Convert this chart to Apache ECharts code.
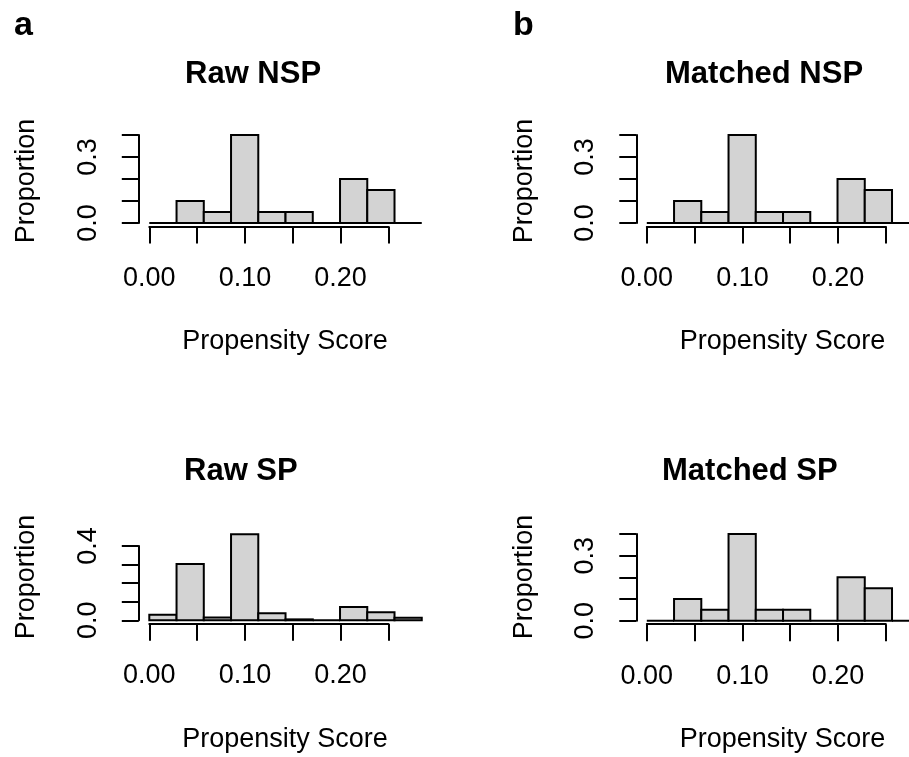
<!DOCTYPE html>
<html><head><meta charset="utf-8">
<script src="https://cdn.jsdelivr.net/npm/echarts@6/dist/echarts.min.js"></script>
<style>html,body{margin:0;padding:0;background:#fff}#c{width:909px;height:757px}</style>
</head><body><div id="c"></div>
<script>
// ---- data ----
const binEdges = [0, 0.0285, 0.057, 0.0855, 0.114, 0.1425, 0.171, 0.1995, 0.228, 0.2565, 0.285];
const rawNSP     = [0, 0.10, 0.05, 0.40, 0.05, 0.05, 0, 0.20, 0.15, 0];
const matchedNSP = [0, 0.10, 0.05, 0.40, 0.05, 0.05, 0, 0.20, 0.15, 0];
const rawSP      = [0.030, 0.303, 0.015, 0.463, 0.038, 0.005, 0, 0.072, 0.043, 0.014];
const matchedSP  = [0, 0.10, 0.05, 0.40, 0.05, 0.05, 0, 0.20, 0.15, 0];
const xTicks = [0, 0.05, 0.10, 0.15, 0.20, 0.25];
const xTickLabels = ['0.00', '', '0.10', '', '0.20', ''];
const yTicks = [0, 0.1, 0.2, 0.3, 0.4];
const yTickLabelsA = ['0.0', '', '', '0.3', ''];
const yTickLabelsB = ['0.0', '', '', '', '0.4'];
const panelTitles = ['Raw NSP', 'Matched NSP', 'Raw SP', 'Matched SP'];
const panelLetters = ['a', 'b'];
const xName = 'Propensity Score';
const yName = 'Proportion';

// ---- layout ----
const panels = [
  {values: rawNSP,     yLabels: yTickLabelsA, left: 149.3, top: 135,   height: 88,   title: [185, 74],  yName: [27, 181], xName: [285, 342]},
  {values: matchedNSP, yLabels: yTickLabelsA, left: 646.8, top: 135,   height: 88,   title: [665, 74],  yName: [524.5, 181], xName: [782.5, 342]},
  {values: rawSP,      yLabels: yTickLabelsB, left: 149.3, top: 546,   height: 74.3, title: [184, 471], yName: [27, 577], xName: [285, 740]},
  {values: matchedSP,  yLabels: yTickLabelsA, left: 646.8, top: 534,   height: 86.7, title: [662, 471], yName: [524.5, 577], xName: [782.5, 740]}
];
const FONT = '"Liberation Sans", Arial, Helvetica, sans-serif';
const W = 239;

function lookup(ticks, labels) {
  return function (v) {
    const i = ticks.findIndex(t => Math.abs(t - v) < 1e-9);
    return i >= 0 ? labels[i] : '';
  };
}

const grid = [], xAxis = [], yAxis = [], series = [], graphic = [];
panels.forEach((p, k) => {
  grid.push({left: p.left, top: p.top, width: W, height: p.height, containLabel: false});
  xAxis.push({
    gridIndex: k, type: 'value', min: 0, max: 0.25, interval: 0.05, offset: 3.5, position: 'bottom',
    axisLine: {show: true, onZero: false, lineStyle: {color: '#000', width: 2}},
    axisTick: {show: true, length: 17, lineStyle: {color: '#000', width: 2}},
    axisLabel: {show: true, margin: 38.5, fontSize: 27, fontFamily: FONT, color: '#000',
      formatter: lookup(xTicks, xTickLabels), showMinLabel: true, showMaxLabel: true},
    splitLine: {show: false}
  });
  yAxis.push({
    gridIndex: k, type: 'value', min: 0, max: 0.4, interval: 0.1, offset: 10.5, position: 'left',
    axisLine: {show: true, onZero: false, lineStyle: {color: '#000', width: 2}},
    axisTick: {show: true, length: 17, lineStyle: {color: '#000', width: 2}},
    axisLabel: {show: true, rotate: 90, margin: 37, fontSize: 27, fontFamily: FONT, color: '#000',
      formatter: lookup(yTicks, p.yLabels), showMinLabel: true, showMaxLabel: true},
    splitLine: {show: false}
  });
  const data = p.values.map((v, i) => [binEdges[i], binEdges[i + 1], v]);
  series.push({
    type: 'custom', xAxisIndex: k, yAxisIndex: k, clip: false, silent: true,
    encode: {x: [0, 1], y: 2},
    data: data,
    renderItem: function (params, api) {
      const a = api.coord([api.value(0), 0]);
      const b = api.coord([api.value(1), api.value(2)]);
      return {
        type: 'rect',
        shape: {x: a[0], y: b[1], width: b[0] - a[0], height: a[1] - b[1]},
        style: {fill: '#D3D3D3', stroke: '#000', lineWidth: 2}
      };
    }
  });
  graphic.push({type: 'text', x: p.title[0], y: p.title[1],
    style: {text: panelTitles[k], font: 'bold 31px ' + FONT, fill: '#000', align: 'left', verticalAlign: 'middle'}});
  graphic.push({type: 'text', x: p.xName[0], y: p.xName[1],
    style: {text: xName, font: '27px ' + FONT, fill: '#000', align: 'center', verticalAlign: 'middle'}});
  graphic.push({type: 'text', x: p.yName[0], y: p.yName[1], rotation: Math.PI / 2,
    style: {text: yName, font: '27px ' + FONT, fill: '#000', align: 'center', verticalAlign: 'middle'}});
});
graphic.push({type: 'text', x: 14, y: 26, style: {text: panelLetters[0], font: 'bold 34px ' + FONT, fill: '#000', align: 'left', verticalAlign: 'middle'}});
graphic.push({type: 'text', x: 513, y: 26, style: {text: panelLetters[1], font: 'bold 34px ' + FONT, fill: '#000', align: 'left', verticalAlign: 'middle'}});

const chart = echarts.init(document.getElementById('c'), null, {renderer: 'canvas'});
chart.setOption({
  animation: false,
  backgroundColor: '#fff',
  grid: grid, xAxis: xAxis, yAxis: yAxis, series: series, graphic: graphic
});
</script>
</body></html>
